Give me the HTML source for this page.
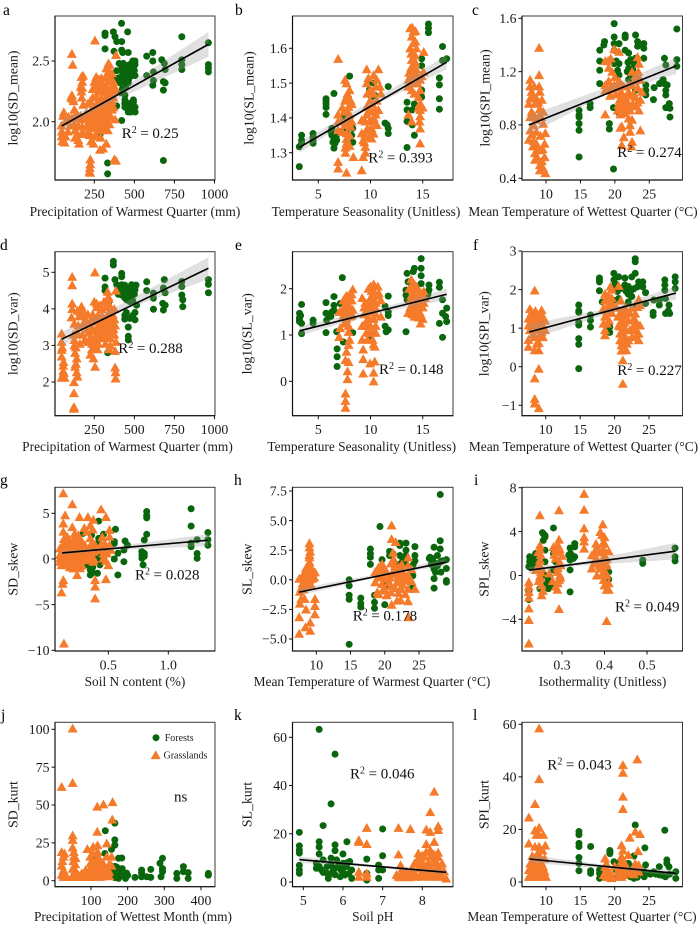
<!DOCTYPE html>
<html lang="en">
<head>
<meta charset="utf-8">
<title>Trait relationships with climate and soil variables</title>
<style>
html,body{margin:0;padding:0;background:#fff;}
#figure{display:block;width:700px;height:925px;font-family:"Liberation Serif",serif;}
</style>
</head>
<body>
<svg id="figure" xmlns="http://www.w3.org/2000/svg" width="700" height="925" viewBox="0 0 700 925"></svg>
<script>
// Panel a
const aForests=[[420,2.81],[458,2.74],[317,2.73],[317,2.71],[369,2.74],[379,2.7],[390,2.66],[421,2.66],[317,2.6],[373,2.58],[421,2.59],[427,2.57],[462,2.57],[577,2.54],[615,2.57],[615,2.5],[671,2.51],[687,2.48],[692,2.43],[796,2.7],[962,2.65],[962,2.47],[962,2.44],[962,2.41],[796,2.51],[796,2.47],[796,2.43],[577,2.38],[619,2.41],[619,2.34],[615,2.3],[681,2.33],[692,2.32],[681,2.26],[681,1.68],[333,1.66],[333,1.57],[390,2.13],[421,2.01],[285,1.89],[331,1.97],[504,2.5],[483,2.47],[452,2.44],[504,2.47],[390,2.42],[431,2.48],[473,2.41],[504,2.38],[441,2.36],[431,2.33],[462,2.32],[410,2.32],[441,2.22],[441,2.18],[494,2.18],[441,2.12],[462,2.14],[483,2.11],[504,2.12],[462,2.08],[494,2.1],[494,2.16],[480,2.43],[495,2.44],[460,2.39],[420,2.42],[445,2.28],[420,2.46],[405,2.48],[440,2.45],[470,2.47],[490,2.5],[500,2.42],[485,2.38],[465,2.35],[445,2.4],[425,2.38],[400,2.36],[380,2.35],[425,2.27],[415,2.24],[470,2.15],[455,2.11],[478,2.08],[505,2.08],[440,2.15],[490,2.13]];
const aGrasslands=[[254,2.67],[110,2.56],[115,2.47],[385,2.55],[338,2.48],[325,2.44],[345,2.4],[170,2.37],[175,2.33],[165,2.29],[170,2.25],[172,2.2],[110,2.22],[115,2.19],[105,2.2],[120,2.17],[225,2.17],[180,2.14],[262,2.37],[250,2.33],[280,2.35],[300,2.3],[320,2.37],[340,2.33],[365,2.3],[350,2.36],[260,2.28],[285,2.25],[310,2.24],[330,2.27],[350,2.25],[380,2.28],[265,2.2],[300,2.18],[325,2.2],[345,2.17],[370,2.2],[250,2.12],[275,2.14],[295,2.11],[320,2.13],[340,2.12],[360,2.1],[225,2.08],[250,2.06],[280,2.07],[305,2.05],[330,2.06],[355,2.04],[380,2.02],[125,2.1],[60,2.08],[55,2.05],[130,2.03],[165,2.05],[195,2.04],[215,2.03],[240,2],[265,2],[295,2],[320,1.99],[345,1.98],[125,1.98],[150,1.97],[175,1.96],[200,1.96],[225,1.95],[250,1.95],[275,1.94],[300,1.93],[45,1.97],[47,1.92],[46,1.88],[50,1.84],[65,1.83],[130,1.93],[145,1.9],[150,1.85],[155,1.82],[220,1.89],[230,1.84],[245,1.82],[285,1.77],[305,1.78],[325,1.82],[375,1.69],[385,1.68],[225,1.69],[225,1.65],[222,1.62],[220,1.59],[225,1.58]];
const aGrasslandsCore=[[210,2.15],[235,2.1],[262,2.14],[288,2.18],[312,2.16],[335,2.16],[358,2.17],[240,2.2],[275,2.25],[320,2.3],[295,2.36],[340,2.42],[235,2.03],[262,2.05],[290,2.03],[318,2.03],[345,2.06],[370,2.12],[215,1.98],[245,1.98],[270,1.97],[310,1.96],[335,1.93],[200,2.07],[180,2.02],[150,2.03],[110,2.03],[90,2.04],[70,2],[100,1.97],[85,1.92],[140,2.07],[185,1.9],[170,1.9],[265,1.88],[290,1.87],[250,1.88],[215,1.92],[130,1.87],[70,1.88],[340,2.23],[300,2.26],[370,2.33],[240,2.27],[300,2.09],[320,2.09],[280,2.1],[260,2.09],[305,2.13],[325,2.16],[285,2.02],[265,2.03],[355,2.13],[375,2.25],[360,2.4],[345,2.47],[290,2.31],[270,2.31],[175,2.28],[180,2.38]];
const aFit=[[47,1.965],[962,2.637]];
const aBand=[[47,1.915,2.015],[300,2.125,2.165],[962,2.535,2.74]];
const aXTicks=[250,500,750,1000];
const aYTicks=[2,2.5];
// Panel b
const bForests=[[3.18,1.26],[3.18,1.317],[3.4,1.35],[3.4,1.336],[3.4,1.327],[4.5,1.355],[4.5,1.345],[4.5,1.336],[4.5,1.327],[5.74,1.455],[5.74,1.448],[5.74,1.44],[5.74,1.43],[5.74,1.41],[6.5,1.47],[6.3,1.37],[6.3,1.35],[6.5,1.341],[6.6,1.327],[6.5,1.313],[6.76,1.336],[7.4,1.405],[7.4,1.365],[8,1.52],[8.3,1.37],[8.3,1.33],[9.8,1.5],[10.3,1.5],[9.9,1.47],[10.1,1.46],[10.4,1.465],[9.9,1.48],[11.7,1.49],[11.4,1.385],[11.6,1.38],[11.7,1.37],[11.7,1.355],[13.5,1.445],[13.5,1.423],[14,1.423],[13.5,1.39],[14,1.38],[13.5,1.315],[14.2,1.35],[15.55,1.67],[15.55,1.658],[15.55,1.645],[14.9,1.57],[14.9,1.55],[14.9,1.48],[16.9,1.605],[17.3,1.57],[16.9,1.565],[16.6,1.515],[16.6,1.495],[16.6,1.455],[16.6,1.425],[6.2,1.36],[6.4,1.33],[6.7,1.345],[6.9,1.36],[7.7,1.36],[8.2,1.35],[14.8,1.47],[14.9,1.46],[14.2,1.44]];
const bGrasslands=[[6.9,1.57],[7.56,1.51],[7.7,1.5],[8,1.48],[7.7,1.46],[7.56,1.45],[7.9,1.432],[7.7,1.418],[8,1.41],[7.7,1.394],[7.56,1.38],[6.9,1.41],[6.9,1.39],[6.9,1.365],[7.7,1.356],[7.7,1.327],[7.6,1.3],[8.36,1.288],[6.9,1.274],[6.9,1.255],[7.7,1.243],[9.16,1.25],[9.3,1.288],[9.5,1.3],[9.16,1.356],[9.3,1.336],[9.5,1.317],[9.16,1.394],[9.64,1.54],[10.76,1.54],[10.3,1.523],[9.8,1.515],[9.64,1.5],[9.96,1.48],[10.3,1.47],[10.6,1.45],[9.96,1.45],[9.64,1.432],[10.1,1.418],[10.76,1.423],[9.64,1.41],[10.3,1.4],[10.6,1.38],[9.96,1.365],[10.1,1.341],[13.8,1.658],[14.1,1.648],[13.95,1.634],[14.1,1.615],[13.8,1.6],[14.27,1.58],[13.95,1.567],[14.1,1.552],[13.8,1.533],[14.27,1.523],[13.63,1.51],[14.1,1.5],[14.75,1.51],[15.07,1.533],[15.1,1.59],[14.75,1.48],[13.95,1.48],[14.75,1.442],[14.75,1.423],[14.75,1.405],[14.75,1.37],[14.75,1.327],[13.95,1.39],[13.63,1.41],[14.5,1.5],[13.8,1.52],[14.4,1.54],[8.2,1.39],[8.2,1.44],[7.3,1.43],[7.3,1.36],[8,1.35],[10.9,1.49],[10.5,1.41],[9.9,1.39]];
const bGrasslandsCore=[[7.8,1.47],[8.1,1.45],[7.5,1.42],[7.9,1.39],[8.1,1.375],[7.7,1.34],[8,1.32],[7.6,1.315],[9.7,1.47],[10.2,1.44],[10.5,1.49],[10.4,1.42],[9.8,1.42],[10.2,1.39],[9.5,1.39],[9.7,1.37],[10.1,1.37],[9.5,1.35],[9.9,1.345],[10.3,1.355],[10.6,1.51],[11,1.47],[9.4,1.33],[14.3,1.65],[14,1.66],[14.3,1.62],[13.9,1.585],[14.3,1.56],[13.9,1.545],[14.4,1.6],[14.5,1.52],[13.7,1.53],[13.6,1.49],[14.2,1.47],[14.6,1.46],[14.9,1.52],[14.7,1.39],[14.6,1.43],[15,1.43],[7.2,1.39]];
const bFit=[[3.18,1.315],[17.3,1.56]];
const bBand=[[3.18,1.3,1.33],[10,1.43,1.446],[17.3,1.54,1.58]];
const bXTicks=[5,10,15];
const bYTicks=[1.3,1.4,1.5,1.6];
// Panel c
const cForests=[[19.9,1.56],[19.9,1.46],[21.5,1.475],[21.5,1.455],[23,1.475],[19.9,1.41],[20.6,1.41],[18.5,1.425],[18.4,1.4],[17.8,1.36],[17.8,1.28],[17.8,1.21],[17.8,1.11],[19.9,1.36],[21.5,1.36],[22,1.34],[23.3,1.425],[23.3,1.39],[24.2,1.41],[24.2,1.375],[24.2,1.3],[23,1.3],[22.3,1.29],[19.9,1.26],[20.6,1.26],[20.4,1.21],[20.6,1.175],[22,1.225],[22.3,1.175],[22,1.14],[23.5,1.14],[24.5,1.1],[24.5,1.06],[24.5,1.025],[25.7,1.08],[25.6,0.99],[27.2,1.3],[27.4,1.25],[26.5,1.11],[27.2,1.11],[27.6,1.1],[27.4,1.06],[27.4,1.025],[27.9,0.96],[27.4,0.93],[28,0.925],[28,0.86],[29,1.52],[29,1.29],[29,1.24],[14.8,0.91],[14.8,0.875],[14.8,0.86],[14.8,0.81],[14.8,0.76],[14.8,0.56],[16.4,0.96],[16.4,0.93],[19.2,0.81],[19.2,0.77],[19.8,0.47],[20.6,0.89],[22,1.03],[23,1.06],[19.8,0.93],[20.2,1.28],[21.8,1.2],[22.6,1.22],[21.9,1.27],[22.8,1.26],[27,1.14],[26.8,1.12],[27.8,0.93]];
const cGrasslands=[[9,1.38],[9,1.175],[7.7,1.14],[7.7,1.09],[9,1.09],[7.9,1.05],[9.1,1.05],[7.7,1],[7.5,0.96],[8.6,1],[9.4,0.99],[7.9,0.9],[9.1,0.92],[9.6,0.9],[7.7,0.86],[8.6,0.84],[9.6,0.81],[7.7,0.76],[8.2,0.8],[8.6,0.75],[9.9,0.74],[7.5,0.69],[8.2,0.68],[8.6,0.66],[9.8,0.66],[8.4,0.59],[9.1,0.61],[9.8,0.56],[8.4,0.54],[9.1,0.5],[9.6,0.475],[9.9,0.44],[9.1,0.46],[20.6,1.35],[19.9,1.37],[18.6,1.28],[19.1,1.23],[19.6,1.2],[18.6,0.88],[18.6,1.1],[18.6,1.06],[19.1,1.13],[19.9,1.1],[20.6,1.13],[21.3,1.09],[22.5,1.1],[23.3,1.31],[23.5,1.26],[22.5,1.2],[23,1.17],[23.7,1.14],[22,1.05],[23,1.01],[23.7,0.99],[23.5,0.91],[22,0.96],[21,0.94],[20.4,0.91],[21.3,0.89],[22.2,0.91],[20.8,0.88],[22,0.85],[22.5,0.84],[22.2,0.8],[21,0.79],[20.8,0.78],[22.2,0.75],[23.7,0.76],[21.3,0.71],[22.5,0.675],[21,0.65],[22.4,0.64],[19.3,1.02],[20.1,1.03],[20.9,1.05],[21.8,1.02]];
const cGrasslandsCore=[[8.3,1.09],[8.4,0.96],[8.9,0.97],[8.1,1.02],[8.3,0.87],[8.9,0.86],[9.3,0.86],[8,0.73],[9.2,0.72],[8.9,0.62],[9.5,0.62],[8.8,0.55],[9.4,0.53],[8.1,0.64],[19.3,1.08],[20,1.16],[20.5,1.08],[21,1.1],[22,1.1],[22.9,1.13],[23.3,1.08],[23.4,1.2],[22.7,1.03],[21.5,0.99],[20.7,0.99],[21,1.02],[22.6,0.96],[23,0.94],[20.5,0.95],[19.7,1.07],[21.7,0.92],[21.4,0.95],[23.3,0.97],[19,1.28],[19.4,1.3],[23.9,1.05],[19,1.06],[21,0.9]];
const cFit=[[7.5,0.8],[28.9,1.243]];
const cBand=[[7.5,0.73,0.87],[19,1.035,1.085],[28.9,1.183,1.303]];
const cXTicks=[10,15,20,25];
const cYTicks=[0.4,0.8,1.2,1.6];
// Panel d
const dForests=[[369,5.3],[369,5.2],[421,4.97],[421,4.88],[317,4.84],[379,4.8],[390,4.66],[421,4.66],[317,4.6],[317,4.5],[577,4.74],[687,4.8],[681,4.57],[692,4.44],[962,4.8],[962,4.67],[962,4.44],[796,4.75],[796,4.61],[796,4.38],[802,4.25],[802,4.06],[577,4.5],[619,4.43],[619,4.29],[619,3.99],[677,4.15],[681,3.97],[692,4.1],[504,4.6],[483,4.66],[462,4.55],[441,4.47],[421,4.38],[473,4.43],[504,4.52],[452,4.25],[483,4.3],[514,4.1],[504,3.9],[441,3.83],[473,3.74],[504,3.7],[462,3.5],[462,3.25],[462,3.15],[333,3.22],[333,2.8],[338,4.15],[285,3.45],[480,4.6],[500,4.4],[440,4.3],[465,4.4],[400,4.55],[420,4.6],[440,4.65],[400,4.4],[450,4.5],[490,4.5],[470,4.5],[510,4.65],[430,4.55],[460,4.32],[480,4.4],[490,4.22],[470,4.2],[440,3.72],[450,3.9],[490,3.82]];
const dGrasslands=[[254,5],[112,4.88],[112,4.65],[385,4.5],[333,4.47],[338,4.33],[327,4.2],[112,4.15],[112,4],[108,3.77],[170,4.07],[160,3.93],[175,3.8],[250,4.2],[265,4.05],[295,4],[320,4.05],[345,4.1],[375,4],[240,3.85],[275,3.85],[300,3.8],[335,3.85],[365,3.85],[125,3.6],[150,3.55],[180,3.6],[220,3.6],[255,3.65],[290,3.6],[325,3.6],[360,3.6],[380,3.55],[140,3.35],[175,3.3],[215,3.35],[250,3.4],[280,3.4],[310,3.4],[345,3.35],[375,3.3],[225,3.2],[255,3.15],[290,3.2],[320,3.05],[350,3],[385,3.1],[46,3.33],[46,3.1],[46,2.88],[46,2.7],[56,2.45],[56,2.3],[46,2.12],[65,2.12],[125,3],[130,2.8],[140,2.65],[130,2.42],[140,2.27],[123,2],[145,2.15],[123,1.7],[123,1.32],[123,1.27],[225,2.75],[245,2.65],[255,2.42],[380,2.4],[383,2.27],[383,2.1],[380,2.85],[340,2.9],[160,3.05]];
const dGrasslandsCore=[[270,3.5],[295,3.45],[320,3.5],[345,3.5],[370,3.45],[265,3.3],[295,3.3],[320,3.25],[350,3.2],[235,3.45],[205,3.45],[195,3.7],[235,3.75],[265,3.75],[290,3.7],[315,3.72],[350,3.72],[375,3.72],[250,3.05],[275,3.05],[235,3.05],[210,3.1],[190,3.15],[150,3.3],[120,3.3],[125,3.15],[155,3.8],[145,3.95],[180,3.95],[210,3.85],[285,4.1],[310,4.2],[340,4.28],[265,4.15],[350,3.95],[250,2.95],[235,2.9],[270,2.9],[135,2.95],[135,2.5],[50,2.95],[58,2.55],[60,2.25],[335,3.68],[300,3.58],[360,3.32]];
const dFit=[[47,3.17],[962,5.11]];
const dBand=[[47,2.97,3.37],[350,3.83,3.97],[962,4.81,5.41]];
const dXTicks=[250,500,750,1000];
const dYTicks=[2,3,4,5];
// Panel e
const eForests=[[7.3,2.24],[6.5,1.83],[5.74,1.7],[3.4,1.66],[3.2,1.47],[3.2,1.37],[3.2,1.29],[3.4,1.25],[3.4,1.03],[4.5,1.32],[4.5,1.25],[5.74,1.47],[5.8,1.32],[5.74,1.05],[6.3,1.5],[6.5,1.64],[6.5,1.53],[6.76,1.07],[7.4,0.85],[6.8,0.7],[6.8,0.53],[6.8,0.32],[7.1,1.68],[8.3,1.05],[9.8,1.29],[9.9,0.93],[10.3,1.65],[10.3,1.58],[11.7,1.84],[11.4,1.62],[11.7,1.5],[11.7,1.42],[11.4,1.19],[11.7,1.11],[11.5,1.07],[13.4,1.07],[13.4,1.97],[13.4,1.86],[13.5,1.76],[13.5,2.33],[14.1,2.37],[14.2,2.44],[14.85,2.65],[14.85,2.44],[14.85,2.28],[14.85,2.11],[15.6,2.08],[15.6,1.97],[16.6,2.14],[16.6,2.03],[16.9,1.76],[17.3,1.58],[16.9,1.47],[17.2,1.4],[17.3,1.29],[16.6,1.25],[16.9,0.95],[13.9,1.55],[14.1,1.58],[3.3,1.42],[3.2,1.32],[6,1.45],[6.2,1.4],[13.6,2.15],[15.5,1.88]];
const eGrasslands=[[7.6,-0.26],[7.6,-0.42],[7.6,-0.57],[7.8,0.05],[7.8,0.22],[7.6,0.46],[7.9,0.42],[7.7,0.64],[7.9,0.79],[8,0.9],[7,0.96],[7.9,1.07],[9.3,0.17],[9.3,0.48],[9.3,0.69],[10.3,0],[10.3,0.19],[10.4,0.43],[9.96,0.39],[10.3,0.8],[10.4,0.75],[9.2,0.9],[9.6,1.05],[10.2,1.05],[9.2,1.2],[9.6,1.3],[10,1.2],[10.5,1.2],[9.4,1.45],[10,1.5],[10.5,1.45],[11,1.4],[9.2,1.8],[9.5,1.7],[9.8,2],[10.3,2.1],[10.8,1.9],[10,1.8],[10.5,1.7],[11,1.75],[9.9,1.62],[8.3,1.99],[8,1.88],[7.6,1.82],[7.8,1.7],[8.2,1.75],[7.4,1.6],[7.7,1.55],[8.3,1.55],[7,1.5],[7.4,1.42],[8,1.4],[7.1,1.15],[7.5,1.25],[7.9,1.2],[13.9,2.2],[14.2,2.1],[13.7,2],[14.4,2.05],[14.7,1.95],[15.1,1.95],[13.9,1.85],[14.3,1.88],[14.7,1.75],[15.2,1.8],[13.8,1.6],[14.2,1.7],[14.5,1.55],[15,1.6],[13.6,1.48],[14.2,1.4],[14.6,1.38],[15,1.35],[14.8,1.25]];
const eGrasslandsCore=[[8,1.75],[7.7,1.85],[7.4,1.75],[8,1.6],[8.2,1.88],[7.6,1.5],[8.1,1.5],[7.3,1.55],[7.7,1.35],[8.2,1.42],[10.1,1.95],[10.4,1.9],[9.9,1.75],[10.6,1.85],[10.2,1.6],[10.5,1.58],[9.7,1.55],[9.4,1.6],[9.6,1.2],[9.9,1.35],[10.3,1.35],[10.5,1.05],[9.9,1.05],[10.2,0.9],[9.7,0.9],[10.7,2.05],[10,2.05],[14,2.05],[14.1,1.95],[14.4,1.95],[14.6,1.85],[14.9,1.85],[14,1.75],[14.4,1.7],[14.8,1.65],[14.1,1.55],[14.7,1.5],[14.3,1.55],[14.8,1.45],[14,1.45],[15.1,1.7],[13.8,1.75]];
const eFit=[[3.2,1.09],[17.3,1.88]];
const eBand=[[3.2,0.99,1.19],[11,1.48,1.58],[17.3,1.76,2]];
const eXTicks=[5,10,15];
const eYTicks=[0,1,2];
// Panel f
const fForests=[[23,2.8],[23,2.72],[23,2.42],[22.5,2.33],[19.9,2.42],[20.6,2.33],[21.5,2.3],[17.8,2.3],[17.8,2.2],[17.8,1.97],[19.9,2.25],[19.9,2.08],[21.5,2.12],[22,2.08],[22.3,1.95],[23.5,2.2],[24.1,2.2],[24.1,2.07],[24.5,1.92],[24.5,1.64],[23.3,2.07],[21,2.03],[20.4,1.95],[20.6,1.77],[28.8,2.33],[28.8,2.2],[28.8,2.03],[27.3,2.25],[27.3,2.12],[27.3,1.98],[25.7,1.73],[26.5,1.73],[26.5,1.6],[27.4,1.77],[27.9,1.6],[27.4,1.38],[28,1.38],[25.6,1.41],[25.6,1.33],[14.8,1.6],[14.8,1.41],[14.8,1.08],[16.5,1.34],[16.5,1.2],[16.5,1.03],[14.8,0.73],[14.8,0.58],[14.8,-0.05],[19.3,1.03],[19.3,0.89],[18.2,1.68],[19.9,1.72],[22,1.68],[22.8,1.55],[22,1.88],[22.5,1.82],[21.7,1.95],[22.8,2.02],[20.1,2.15],[17.8,2.25],[27.8,1.45],[14.8,1.15],[14.8,1.45]];
const fGrasslands=[[8.4,1.98],[7.7,1.5],[9.4,1.47],[7.5,1.25],[8,1.33],[8.7,1.38],[9.2,1.3],[9.9,1.2],[7.5,1.07],[8.2,1.16],[9.6,1.07],[7.7,0.95],[8.7,0.95],[9.4,0.9],[9.9,0.95],[8.4,0.77],[9.6,0.77],[7.5,0.7],[7.5,0.52],[8.7,0.6],[8.4,0.43],[9,0.43],[9,-0.05],[8.4,-0.3],[8.4,-0.83],[8.4,-0.95],[9,-1.07],[20.6,2.1],[19.6,2],[18.6,1.89],[19.1,1.85],[18.6,1.72],[19.3,1.68],[18.4,1.52],[19.1,1.43],[18.6,1.3],[18.4,1.12],[18.6,0.95],[18.6,0.82],[20.3,1.53],[21,1.45],[21.5,1.53],[22.5,1.53],[23.5,1.75],[23.7,1.6],[23,1.38],[21,1.2],[22,1.2],[20.6,1.07],[21.5,1],[22.8,1.07],[23.7,1.07],[20.8,0.86],[21.5,0.77],[22.5,0.77],[23.5,0.86],[23.5,0.69],[22,0.69],[20.8,0.69],[21,0.56],[21.7,0.43],[21.2,0.17],[21.2,-0.44],[21.2,0.65],[23,0.95]];
const fGrasslandsCore=[[8.2,1.3],[8.4,1.2],[8.9,1.2],[9.3,1.15],[8.2,1],[8.8,1.08],[8,1.42],[8.5,1.45],[9.6,1.3],[9.3,1.02],[8.2,0.85],[9.2,0.8],[9,0.62],[19,1.72],[19.6,1.78],[19.2,1.6],[19.8,1.6],[18.9,1.45],[19.6,1.4],[18.9,1.12],[19.2,1.2],[20.9,1.72],[21.6,1.35],[22.2,1.4],[20.5,1.3],[21,1.32],[22.8,1.25],[23.3,1.55],[21.4,1.15],[20.8,1.05],[22.2,0.95],[21.2,0.9],[21.8,0.6],[22.6,0.95],[23.1,0.8],[21,0.42],[23.2,1.15],[19.4,2.08]];
const fFit=[[7.6,0.9],[28.9,1.91]];
const fBand=[[7.6,0.7,1.1],[19,1.37,1.51],[28.9,1.74,2.08]];
const fXTicks=[10,15,20,25];
const fYTicks=[-1,0,1,2,3];
// Panel g
const gForests=[[0.42,4.15],[0.56,3.25],[0.82,5.2],[0.82,4.75],[0.82,4.5],[0.82,2.7],[0.8,2.08],[1.19,5.5],[1.19,3.6],[1.33,2.9],[1.33,2.1],[1.33,1.5],[1.24,2.1],[1.19,1.75],[1.19,1.35],[1.24,0.6],[1.24,0.07],[0.78,0.8],[0.78,0.44],[0.78,0.07],[0.79,-0.65],[0.58,-1.75],[0.63,-0.3],[0.64,1.97],[0.66,1.5],[0.63,0.98],[0.58,0.62],[0.55,0],[0.55,1.7],[0.55,1.9],[0.46,2.7],[0.42,2.26],[0.29,2.8],[0.36,2.6],[0.38,1.15],[0.42,0.62],[0.41,0.07],[0.33,-0.65],[0.35,-1.2],[0.35,-1.75],[0.41,-1.57],[0.46,1.17],[0.43,-0.65],[0.41,1.7],[0.8,0.3],[0.8,0.6],[0.33,-0.35],[0.37,-1.5],[0.37,-0.9]];
const gGrasslands=[[0.125,7.2],[0.2,6],[0.14,4.8],[0.26,4.6],[0.125,3.9],[0.33,4.6],[0.375,4.3],[0.44,5.45],[0.48,4.6],[0.35,3.7],[0.51,3.2],[0.37,3.25],[0.125,3],[0.2,3.5],[0.22,2.8],[0.125,-2.3],[0.12,-2.7],[0.11,-3.65],[0.13,-9.25],[0.24,-1.75],[0.39,-2.3],[0.39,-3],[0.39,-4.3],[0.48,-2.2],[0.51,2.46],[0.51,1.53],[0.097,1.17],[0.14,1.9],[0.18,2.08],[0.22,2.26],[0.264,2.08],[0.097,0.44],[0.15,0.8],[0.18,1.17],[0.264,1.35],[0.305,1.53],[0.097,-0.3],[0.14,-0.12],[0.18,0.07],[0.22,0.26],[0.264,0.44],[0.305,0.62],[0.11,-0.66],[0.167,-0.66],[0.208,-0.66],[0.264,-0.3],[0.305,-0.12],[0.208,-1.02],[0.264,-1],[0.347,0.44],[0.375,-0.3],[0.46,0.07],[0.49,0.62],[0.5,-0.66],[0.43,0.98],[0.39,1.53],[0.47,1.7],[0.34,1.1],[0.14,0.3],[0.18,-0.3],[0.22,-0.3],[0.16,1.5],[0.2,0.6],[0.24,0.9]];
const gGrasslandsCore=[[0.12,1.5],[0.12,0.8],[0.12,0],[0.16,0.1],[0.16,-0.4],[0.19,0.4],[0.22,0.75],[0.24,0.1],[0.24,-0.5],[0.2,-0.05],[0.28,0.8],[0.28,0.1],[0.28,-0.7],[0.16,2.4],[0.2,1.7],[0.24,1.7],[0.28,1.9],[0.13,2.2],[0.25,2.6],[0.3,1],[0.3,0.2],[0.32,0.9],[0.34,0],[0.36,1.7],[0.38,0.8],[0.38,0],[0.44,1.6],[0.46,0.6],[0.48,-0.2],[0.52,1],[0.45,2.4],[0.1,0.1],[0.18,-0.9],[0.26,-0.75],[0.17,1],[0.21,1.2],[0.35,2.3],[0.32,3],[0.3,3.4]];
const gFit=[[0.115,0.66],[1.33,2.05]];
const gBand=[[0.115,0.41,0.91],[0.5,0.95,1.29],[1.33,1.4,2.7]];
const gXTicks=[0.5,1];
const gYTicks=[-10,-5,0,5];
// Panel h
const hForests=[[28.1,7.2],[28.1,3.3],[19.3,4.5],[17.9,2.6],[17.9,2.2],[17.9,1.9],[17.9,1.3],[19.6,1.7],[20.7,2.4],[20.7,2.05],[22.2,3.1],[23.1,3.1],[24.4,2.8],[24.4,2.05],[24.4,1.6],[22.2,2.9],[21.2,2.2],[22.2,2.05],[23.1,2.5],[23.1,2.05],[22.2,1.2],[23.1,1.35],[24.1,1.2],[24.1,0.35],[24.1,-0.6],[27.2,2.75],[28.1,2.6],[26.6,1.9],[27,1.8],[27.7,2.05],[26.5,1.8],[28.1,1.5],[29,1.7],[29,0.95],[28.2,0.65],[27.4,0.65],[27.2,0.1],[27.2,-0.7],[29,-0.06],[29,-0.2],[14.8,0],[14.8,-0.5],[14.8,-1.3],[14.8,-1.65],[14.8,-5.45],[16.5,-1.55],[16.5,-2],[16.5,-2.3],[18.5,-1.3],[18.5,-1.9],[18.5,-2.4],[20,-2.1],[20,-0.2],[20,-0.5],[21.5,1.2],[27.3,1.4],[27.7,1.2],[26.8,1.3],[28.4,1.6],[27.2,0.9],[22.6,1.6],[23,1.2],[22.3,1],[21.9,1.3],[24.3,1.5]];
const hGrasslands=[[9,3.1],[9,2.75],[9,2.1],[9,1.5],[8.8,1.2],[9.3,0.9],[8.3,0.65],[7.5,0.1],[8.3,0.2],[9.3,0.35],[8.3,-0.2],[9,0],[9.8,0.65],[7.6,-1],[7.8,-1.6],[7.6,-2],[8.3,-1.6],[8.5,-2.5],[9.8,-1.6],[9.8,-2.2],[9.8,-2.9],[7.5,-3.15],[8.4,-4],[7.5,-4.55],[9.1,-4.3],[9.1,-3.6],[21,4.6],[21,3.45],[21.6,3.2],[19.6,1.35],[19.1,1.07],[18.6,0.65],[19.3,0.35],[20.3,0.65],[21.3,1.76],[22,1.07],[21.3,0.65],[22.7,0.65],[23.4,1.9],[23.4,1.2],[23.6,0.08],[18.6,-0.2],[19.6,-0.34],[20.6,-0.2],[21.8,-0.2],[22.7,-0.06],[18.9,-1.04],[20.9,-1.04],[22.4,-0.76],[23.4,-0.76],[24.4,-0.76],[19.1,-1.2],[21,-2.1],[21.8,-1.75],[23.4,-1.8],[23.5,-3.15],[20.3,-1.3],[19.5,0.8],[20.8,0.2],[22.2,0.3],[23,0.3]];
const hGrasslandsCore=[[8,0.1],[8.6,0.3],[8.2,0.5],[8.7,0.7],[8.9,0.2],[8.5,0],[9.5,0.6],[8.5,1],[9.1,1.2],[9.4,0.1],[8,-0.3],[8.7,-0.5],[9.2,-0.4],[8.1,-0.8],[9,1.9],[9.1,2.4],[7.8,-0.7],[9.7,0.2],[19,0.2],[19.8,0.2],[19.1,0.7],[19.9,1],[20.4,0.1],[21,0.5],[21.5,1.2],[21.2,2.3],[20.9,1.4],[21.8,0.7],[22.5,1.3],[21.9,0.2],[22.6,-0.4],[20.9,-0.5],[21.5,-0.7],[22,-1.1],[23,-1.2],[20,-0.8],[19.7,-0.9],[23.4,0.4],[23.9,0.9],[23.9,-0.1],[22.3,-1.7]];
const hFit=[[7.5,-1.04],[29,1.49]];
const hBand=[[7.5,-1.34,-0.74],[20,0.38,0.6],[29,1.19,1.79]];
const hXTicks=[10,15,20,25];
const hYTicks=[-5,-2.5,0,2.5,5,7.5];
// Panel i
const iForests=[[0.28,4.33],[0.256,3.8],[0.26,3.5],[0.256,3.2],[0.238,2],[0.224,1.7],[0.232,1.5],[0.224,1.25],[0.24,1.25],[0.228,0.8],[0.26,1.25],[0.26,2.3],[0.28,2],[0.29,2.55],[0.285,1.25],[0.28,0.5],[0.26,0],[0.268,-0.4],[0.248,-1.2],[0.268,-1.2],[0.276,-1],[0.264,-0.7],[0.319,2.5],[0.33,2.9],[0.33,2.6],[0.316,1.85],[0.319,1.4],[0.327,1.55],[0.319,0.5],[0.319,-1.5],[0.222,-1.5],[0.222,-2.2],[0.41,0.33],[0.41,-0.36],[0.49,1.4],[0.49,1.1],[0.566,2.5],[0.566,1.7],[0.566,1.33],[0.222,0.8],[0.228,1.2],[0.236,1.7],[0.232,1.1],[0.225,1.45],[0.26,3.65],[0.254,3.9],[0.324,1.8],[0.32,2],[0.33,1.7]];
const iGrasslands=[[0.352,7.45],[0.352,6],[0.293,5.95],[0.248,5.5],[0.352,4.3],[0.396,4.67],[0.293,3.27],[0.352,3.5],[0.352,3.1],[0.352,2.45],[0.39,3.97],[0.394,3.7],[0.398,3.06],[0.38,2.9],[0.378,2.2],[0.222,-0.6],[0.222,-1],[0.222,-3],[0.222,-4.05],[0.222,-6.2],[0.293,-3.05],[0.405,-4.15],[0.248,2.75],[0.244,2.15],[0.248,1.4],[0.252,0.64],[0.248,-0.1],[0.252,-0.9],[0.252,-1.8],[0.28,2.6],[0.293,2.15],[0.285,1.55],[0.297,0.94],[0.289,0.33],[0.293,-0.4],[0.285,-1],[0.289,-1.3],[0.37,1.85],[0.38,1.55],[0.386,1.25],[0.39,0.64],[0.402,0.33],[0.37,0.64],[0.382,0],[0.398,-0.4],[0.405,-1.3],[0.4,-0.9],[0.405,1.5],[0.41,2.2],[0.398,2.4],[0.27,0.2],[0.3,1.8],[0.278,-0.5],[0.238,0.5]];
const iGrasslandsCore=[[0.248,2.4],[0.25,1.9],[0.245,1],[0.25,0.3],[0.245,-0.5],[0.255,-1.4],[0.25,-0.2],[0.29,2.8],[0.285,2.4],[0.295,1.2],[0.29,0.7],[0.295,0],[0.29,-0.7],[0.296,-0.2],[0.282,1.9],[0.295,2.4],[0.383,2.6],[0.39,2.1],[0.4,1.8],[0.395,1.2],[0.405,0.9],[0.388,0.9],[0.375,1.1],[0.405,0],[0.41,-0.7],[0.395,0.1],[0.41,-1.3],[0.4,3.5],[0.4,2.9],[0.404,1.1],[0.222,-2],[0.222,-1.5]];
const iFit=[[0.222,0.48],[0.567,2.21]];
const iBand=[[0.222,0.18,0.78],[0.33,0.85,1.15],[0.567,1.46,2.96]];
const iXTicks=[0.3,0.4,0.5];
const iYTicks=[-4,0,4,8];
// Panel j
const jForests=[[165,38],[139,33],[165,27],[165,23.5],[156,20.7],[138,18],[115,14.8],[175,14.8],[184,15],[170,9],[165,7],[178,5],[188,3.7],[197,5],[160,2.6],[175,1.5],[194,1.5],[220,2.2],[238,7],[238,5],[238,2.6],[252,2.6],[263,7.5],[263,2.2],[295,14.8],[288,11.5],[295,8],[295,6],[291,2.6],[334,4.8],[334,1.5],[352,9.3],[352,6],[365,5.3],[365,1.5],[420,3.7],[420,4.8],[150,3],[185,8],[170,3],[160,6],[170,5],[180,7],[190,3],[165,9.5],[175,8],[200,3.5],[155,3],[183,5],[165,2]];
const jGrasslands=[[50,100.6],[20,62],[50,64.7],[159,52],[134,50.5],[117,49],[158,40.5],[117,32.4],[50,30],[50,27],[143,24.7],[118,23.5],[90,21],[106,22.5],[20,19],[25,16],[20,10],[20,4],[53,19],[53,16],[57,11],[57,7],[66,3.7],[80,2.6],[98,16],[98,11.5],[115,14],[125,10],[98,7],[111,7],[125,5],[139,5],[89,3.7],[106,2.6],[125,2.6],[143,16],[156,16],[156,10],[143,7],[34,2.6],[48,2.6],[25,2.6],[150,3],[70,2.5],[58,2.5],[118,19],[150,11],[135,3]];
const jGrasslandsCore=[[22,13],[25,7],[28,18],[50,22],[52,13],[50,8],[55,4],[62,2.5],[75,5],[85,7],[95,5],[102,10],[105,18],[110,3],[118,8],[128,7],[130,4],[132,12],[120,3],[138,8],[145,4],[150,6],[100,3],[115,11],[105,13],[122,15],[95,2.5],[90,2.5],[58,15],[60,5]];
const jXTicks=[100,200,300,400];
const jYTicks=[0,25,50,75,100];
// Panel k
const kForests=[[5.4,63.3],[5.8,53],[5.7,32.4],[5.5,23.4],[4.9,20.6],[4.9,15],[4.9,13.3],[4.9,12],[4.9,6.9],[4.9,5],[4.9,3.6],[5.4,16.7],[5.4,14.5],[5.4,11.6],[5.8,15.4],[5.8,13],[6.1,16.7],[6,11.6],[6.6,9.5],[7,10.9],[7,22],[6.9,7],[6.9,5],[7,5],[6.9,1.5],[6.6,0.8],[6.6,3.6],[5.33,5.7],[5.5,9.2],[5.6,6.4],[5.7,9.9],[5.84,9.2],[6,7.8],[6.17,8.5],[5.33,7.8],[5.46,5],[5.6,3.6],[5.63,1.5],[5.76,5],[5.93,5.7],[6.09,6.4],[5.93,2.2],[6.05,2.9],[6.22,5],[6.22,1.5],[7.4,2.2],[5.95,5],[5.4,6.5],[5.5,4],[5.7,7],[5.8,3],[5.9,7],[6,4],[6.1,8],[6.15,3.5],[5.7,3.5],[5.85,6]];
const kGrasslands=[[8.3,37.5],[8.2,29],[6.6,22.5],[7.4,22.5],[7.7,22],[8.1,21.8],[8.2,20.8],[8.4,23.2],[8.4,21.6],[6.4,17.4],[6.4,16.7],[6.6,15.8],[7.4,11.5],[8.1,15.8],[8.3,16.7],[7.9,11.9],[8.1,12.6],[8.2,13.3],[8.4,12.2],[7.9,9.9],[8.2,10.6],[8.4,10.4],[8.5,7.7],[7.8,7.7],[8,8.4],[8.25,7.7],[7.75,5.7],[7.9,5.7],[8.1,6.4],[8.35,5.7],[7.45,7],[7.5,5.7],[6.4,4.3],[6.4,2.2],[6.6,3.6],[6.6,2.2],[7.4,2.2],[7.55,2.9],[7.7,2.2],[7.85,2.2],[8,2.2],[8.2,2.2],[8.35,2.2],[8.5,2.2],[8.6,1.5],[8.45,3.6]];
const kGrasslandsCore=[[7.8,4],[8,4.5],[8.15,4.5],[8.3,4],[8.45,5.5],[7.95,7],[8.15,8],[8.35,8.5],[8.05,10.5],[8.3,11.5],[7.6,4.5],[7.7,3.5],[7.95,3],[8.1,3],[8.25,3],[7.5,4],[7.9,8.8],[8.2,6],[8.4,7],[7.35,3],[7.65,2],[7.45,2],[8.55,4.5],[8,11],[8.3,9.5]];
const kFit=[[4.9,9.3],[8.6,4]];
const kBand=[[4.9,8,10.6],[6.9,5.9,6.9],[8.6,3,5]];
const kXTicks=[5,6,7,8];
const kYTicks=[0,20,40,60];
// Panel l
const lForests=[[23,21.7],[27.3,19.7],[14.8,19.2],[14.8,18],[14.8,14.7],[14.8,13.5],[14.8,9.3],[14.8,7.1],[14.8,4.3],[16.5,13.5],[16.5,4.3],[16.5,3.3],[17.8,4.6],[17.8,3.3],[17.8,1.4],[19.3,12],[19.3,10.8],[19.9,7.7],[20.4,7.1],[20.2,4.6],[19.9,1.4],[20.6,3.3],[22,7.1],[22.5,5.8],[22,3.3],[22.8,1.4],[22.8,9.9],[24.4,13],[24.5,6.5],[24.3,3.9],[24.3,2],[25.7,3.9],[26.5,5.8],[26.5,2.7],[27.6,8.4],[27.6,7.1],[27.4,2],[27.9,5.8],[28.9,3.9],[28.9,1.4],[21.5,2.5],[23,3],[25.2,3],[26,3],[27,2.5],[28,3],[22.3,2],[23.3,1.8],[22.6,4],[19.3,11.5]];
const lGrasslands=[[9,58.5],[9,39.2],[8.4,29.7],[7.5,24.6],[8.4,19.7],[9,20.7],[9.6,18],[7.5,14.7],[8.4,13.5],[9.9,13.9],[9,13.5],[7.7,7.1],[8.4,9],[9.1,9.7],[7.5,4.6],[8.2,4.6],[8.9,5.8],[9.6,5.8],[7.5,2],[8.2,2],[8.9,2],[9.6,2.7],[21.2,44.5],[21.2,41.6],[21.2,32.5],[21.2,27.8],[23.3,46.7],[23,19.2],[23.7,18.3],[22.2,16.9],[21,14],[23.4,11.8],[22,10.3],[21,9.7],[18.6,9],[18.6,5.8],[18.4,2.7],[19.6,2.7],[20.8,5.8],[21.3,2.7],[22.5,3.3],[23.5,6.5],[19.5,1.5],[21.5,7],[22.7,5],[20.5,2],[10,2]];
const lGrasslandsCore=[[8,5.5],[8,3],[8.5,6.5],[8.7,4],[9.2,4],[9.3,7.5],[8.8,11],[9.8,9],[8,10],[9,18],[8.6,18],[8,8],[9.5,12],[9.8,4],[18.8,7],[19,4.5],[19.2,2],[20.5,4.5],[21,8],[20.9,4],[21.2,12],[21.4,5],[21,2],[23,7],[23.5,4],[22.8,3],[18.8,2],[20,6],[21.8,4]];
const lFit=[[7.6,8.75],[28.9,3.3]];
const lBand=[[7.6,7.25,10.25],[20,5,6.1],[28.9,2.1,4.5]];
const lXTicks=[10,15,20,25];
const lYTicks=[0,20,40,60];

const legendLabels=['Forests','Grasslands'];

const panels=[
 {id:'a',forests:aForests,grass:aGrasslands.concat(aGrasslandsCore),fit:aFit,band:aBand,xt:aXTicks,yt:aYTicks,xd:0,yd:1,yTitle:'log10(SD_mean)',xTitle:'Precipitation of Warmest Quarter (mm)',r2:'0.25',box:[55,215,16,180],xa:[94.3,214.5],ya:[121.7,61],ty:13,txc:135,xtb:216,lx:3,lb:15,rx:121.7,rb:138},
 {id:'b',forests:bForests,grass:bGrasslands.concat(bGrasslandsCore),fit:bFit,band:bBand,xt:bXTicks,yt:bYTicks,xd:0,yd:1,yTitle:'log10(SL_mean)',xTitle:'Temperature Seasonality (Unitless)',r2:'0.393',box:[292.5,453,16,180],xa:[318.3,422.7],ya:[152.7,48.3],ty:249,txc:366,xtb:216,lx:235,lb:15,rx:368.3,rb:162.7},
 {id:'c',forests:cForests,grass:cGrasslands.concat(cGrasslandsCore),fit:cFit,band:cBand,xt:cXTicks,yt:cYTicks,xd:0,yd:1,yTitle:'log10(SPI_mean)',xTitle:'Mean Temperature of Wettest Quarter (°C)',r2:'0.274',box:[522,682.5,16,180],xa:[546,649.3],ya:[178.3,18.3],ty:485,txc:583,xtb:216,lx:472,lb:15,rx:617.3,rb:157},
 {id:'d',forests:dForests,grass:dGrasslands.concat(dGrasslandsCore),fit:dFit,band:dBand,xt:dXTicks,yt:dYTicks,xd:0,yd:0,yTitle:'log10(SD_var)',xTitle:'Precipitation of Warmest Quarter (mm)',r2:'0.288',box:[55,215,251.7,415.7],xa:[94.3,214.5],ya:[382,272.3],ty:13,txc:127.5,xtb:451,lx:0,lb:250,rx:118.3,rb:353},
 {id:'e',forests:eForests,grass:eGrasslands.concat(eGrasslandsCore),fit:eFit,band:eBand,xt:eXTicks,yt:eYTicks,xd:0,yd:0,yTitle:'log10(SL_var)',xTitle:'Temperature Seasonality (Unitless)',r2:'0.148',box:[292.5,453,251.7,415.7],xa:[318.3,422.7],ya:[381.3,288.7],ty:247,txc:361.7,xtb:451,lx:235,lb:250,rx:379,rb:374},
 {id:'f',forests:fForests,grass:fGrasslands.concat(fGrasslandsCore),fit:fFit,band:fBand,xt:fXTicks,yt:fYTicks,xd:0,yd:0,yTitle:'log10(SPI_var)',xTitle:'Mean Temperature of Wettest Quarter (°C)',r2:'0.227',box:[522,682.5,251.7,415.7],xa:[545.7,649],ya:[405.3,251],ty:484,txc:583.5,xtb:451,lx:473,lb:250,rx:617.3,rb:375},
 {id:'g',forests:gForests,grass:gGrasslands.concat(gGrasslandsCore),fit:gFit,band:gBand,xt:gXTicks,yt:gYTicks,xd:1,yd:0,yTitle:'SD_skew',xTitle:'Soil N content (%)',r2:'0.028',box:[55,215,487.3,651],xa:[108.3,168.3],ya:[650.3,513.3],ty:13,txc:135,xtb:686,lx:0,lb:485,rx:135,rb:579.3},
 {id:'h',forests:hForests,grass:hGrasslands.concat(hGrasslandsCore),fit:hFit,band:hBand,xt:hXTicks,yt:hYTicks,xd:0,yd:1,yTitle:'SL_skew',xTitle:'Mean Temperature of Warmest Quarter (°C)',r2:'0.178',box:[292.5,453,487.3,651],xa:[316.3,419],ya:[639,491],ty:247,txc:372,xtb:686,lx:234,lb:485,rx:352.7,rb:620.7},
 {id:'i',forests:iForests,grass:iGrasslands.concat(iGrasslandsCore),fit:iFit,band:iBand,xt:iXTicks,yt:iYTicks,xd:1,yd:0,yTitle:'SPI_skew',xTitle:'Isothermality (Unitless)',r2:'0.049',box:[522,682.5,487.3,651],xa:[562,647],ya:[619.3,487.7],ty:484,txc:602.5,xtb:686,lx:474,lb:485,rx:615,rb:611.7},
 {id:'j',forests:jForests,grass:jGrasslands.concat(jGrasslandsCore),fit:null,band:null,xt:jXTicks,yt:jYTicks,xd:0,yd:0,yTitle:'SD_kurt',xTitle:'Precipitation of Wettest Month (mm)',r2:null,box:[55,215,722.3,886.7],xa:[91,201],ya:[880.7,729.3],ty:13,txc:133,xtb:921,lx:1,lb:720,rx:174,rb:801.7},
 {id:'k',forests:kForests,grass:kGrasslands.concat(kGrasslandsCore),fit:kFit,band:kBand,xt:kXTicks,yt:kYTicks,xd:0,yd:0,yTitle:'SL_kurt',xTitle:'Soil pH',r2:'0.046',box:[292.5,453,722.3,886.7],xa:[303.3,422.3],ya:[882,737.3],ty:247,txc:372.8,xtb:921,lx:234,lb:720,rx:350,rb:778.3},
 {id:'l',forests:lForests,grass:lGrasslands.concat(lGrasslandsCore),fit:lFit,band:lBand,xt:lXTicks,yt:lYTicks,xd:0,yd:0,yTitle:'SPI_kurt',xTitle:'Mean Temperature of Wettest Quarter (°C)',r2:'0.043',box:[522,682.5,722.3,886.7],xa:[546,649],ya:[882,724.3],ty:484,txc:582,xtb:921,lx:473,lb:720,rx:547.3,rb:769.3}
];

const SVGNS='http://www.w3.org/2000/svg';
const root=document.getElementById('figure');
const GREEN='#0a660c';
const ORANGE='#f57a2a';
const INK='#1c1c1c';

function mk(tag,attrs,parent){
  const n=document.createElementNS(SVGNS,tag);
  for(const k in attrs){n.setAttribute(k,attrs[k]);}
  (parent||root).appendChild(n);
  return n;
}
function linear(v0,v1,p0,p1){return v=>p0+(v-v0)*(p1-p0)/(v1-v0);}
function fmt(v,d){return v.toFixed(d).replace('-','\u2212');}
function triPoints(px,py){return (px-5)+','+(py+4.1)+' '+px+','+(py-4.8)+' '+(px+5)+','+(py+4.1);}

panels.forEach(function(p){
  const g=mk('g',{});
  
  
  const xS=linear(p.xt[0],p.xt[p.xt.length-1],p.xa[0],p.xa[1]);
  const yS=linear(p.yt[0],p.yt[p.yt.length-1],p.ya[0],p.ya[1]);
  const L=p.box[0],R=p.box[1],T=p.box[2],B=p.box[3];

  const bg=mk('rect',{x:L,y:T,width:R-L,height:B-T,fill:'#fff',stroke:'#3a3a3a','stroke-width':1},g);
  
  

  const fg=mk('g',{},g);
  
  
  p.forests.forEach(function(d){
    const c=mk('circle',{cx:xS(d[0]),cy:yS(d[1]),r:3.5,fill:GREEN},fg);
    
    
  });
  const og=mk('g',{},g);
  
  
  p.grass.forEach(function(d){
    const t=mk('polygon',{points:triPoints(xS(d[0]),yS(d[1])),fill:ORANGE},og);
    
    
  });

  if(p.band){
    const up=p.band.map(b=>xS(b[0])+','+yS(b[2]));
    const lo=p.band.slice().reverse().map(b=>xS(b[0])+','+yS(b[1]));
    const rb=mk('polygon',{points:up.concat(lo).join(' '),fill:'#999','fill-opacity':0.3},g);
    
    
    const ln=mk('line',{x1:xS(p.fit[0][0]),y1:yS(p.fit[0][1]),x2:xS(p.fit[1][0]),y2:yS(p.fit[1][1]),stroke:'#000','stroke-width':1.6},g);
    
    
  }

  const ax=mk('path',{d:'M'+L+' '+T+'V'+B+'H'+R,fill:'none',stroke:'#111','stroke-width':1.2},g);
  
  

  p.xt.forEach(function(v){
    const tk=mk('line',{x1:xS(v),x2:xS(v),y1:B,y2:B+3.5,stroke:'#111','stroke-width':1},g);
    
    
    const tl=mk('text',{x:xS(v),y:B+18.5,'text-anchor':'middle','font-size':13.8,fill:INK},g);
    
    
    tl.textContent=fmt(v,p.xd);
  });
  p.yt.forEach(function(v){
    const tk=mk('line',{x1:L-3.5,x2:L,y1:yS(v),y2:yS(v),stroke:'#111','stroke-width':1},g);
    
    
    const tl=mk('text',{x:L-5.5,y:yS(v)+4.7,'text-anchor':'end','font-size':13.8,fill:INK},g);
    
    
    tl.textContent=fmt(v,p.yd);
  });

  const xt=mk('text',{x:p.txc,y:p.xtb,'text-anchor':'middle','font-size':13.4,fill:INK},g);
  
  
  xt.textContent=p.xTitle;

  const cy=(T+B)/2;
  const yt=mk('text',{x:p.ty+4.5,y:cy,'text-anchor':'middle','font-size':13.8,fill:INK,transform:'rotate(-90 '+(p.ty+4.5)+' '+cy+')'},g);
  
  
  yt.textContent=p.yTitle;

  const lt=mk('text',{x:p.lx,y:p.lb,'font-size':15.5,fill:'#000'},g);
  
  
  lt.textContent=p.id;

  const an=mk('text',{x:p.rx,y:p.rb,'font-size':15,fill:'#111'},g);
  
  
  if(p.r2){
    const a=mk('tspan',{},an);a.textContent='R';
    const s=mk('tspan',{dy:-5,'font-size':10},an);s.textContent='2';
    const b=mk('tspan',{dy:5,dx:3.5},an);b.textContent='= '+p.r2;
  }else{
    an.textContent='ns';
  }
});

const lg=mk('g',{});


const lc=mk('circle',{cx:156,cy:737.7,r:3.5,fill:GREEN},lg);


const lf=mk('text',{x:164.7,y:741,'font-size':10,fill:INK},lg);


lf.textContent=legendLabels[0];
const lt2=mk('polygon',{points:triPoints(155.7,755),fill:ORANGE},lg);


const lf2=mk('text',{x:163.5,y:758.3,'font-size':10,fill:INK},lg);


lf2.textContent=legendLabels[1];
</script>
</body>
</html>
